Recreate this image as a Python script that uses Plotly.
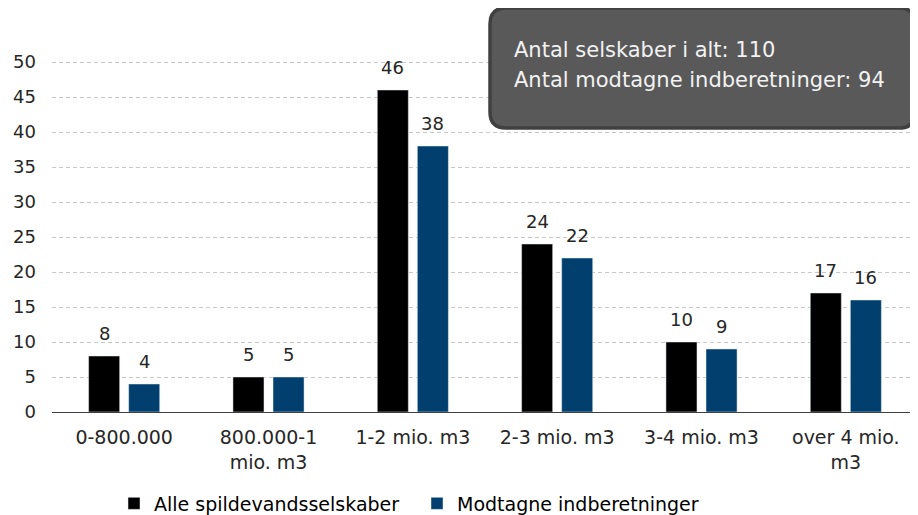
import plotly.graph_objects as go

categories = ["0-800.000", "800.000-1<br>mio. m3", "1-2 mio. m3", "2-3 mio. m3", "3-4 mio. m3", "over 4 mio.<br>m3"]
alle = [8, 5, 46, 24, 10, 17]
modtagne = [4, 5, 38, 22, 9, 16]
series_names = ["Alle spildevandsselskaber", "Modtagne indberetninger"]
box_lines = ["Antal selskaber i alt: 110", "Antal modtagne indberetninger: 94"]
y_ticks = [0, 5, 10, 15, 20, 25, 30, 35, 40, 45, 50]

FONT = "DejaVu Sans"
OFF = 8  # page body margin
W, H = 910, 507
L, R, T, B = 44, 0, 12, 103
pw, ph = W - L - R, H - T - B
BARGAP, GROUPGAP = 0.445, 0.225

def px2paper(x, y):
    # x, y in viewport pixels
    x -= OFF
    y -= OFF
    return (x - L) / pw, (H - B - y) / ph

fig = go.Figure()
fig.add_trace(go.Bar(x=categories, y=alle, name=series_names[0], marker_color="#000000"))
fig.add_trace(go.Bar(x=categories, y=modtagne, name=series_names[1], marker_color="#003F6E"))

# value labels above bars
slot = pw / len(categories) * (1 - BARGAP) / 2
for k, vals in enumerate([alle, modtagne]):
    shift = (k - 0.5) * slot
    for c, v in zip(categories, vals):
        fig.add_annotation(x=c, y=v, text=str(v), showarrow=False, xshift=shift,
                           yanchor="bottom", yshift=10,
                           font=dict(size=18, color="#262626", family=FONT))

# rounded box
x0, y0 = px2paper(490, 128)
x1, y1 = px2paper(915, 8)
rx, ry = 16 / pw, 16 / ph
path = (f"M {x0+rx},{y0} L {x1-rx},{y0} Q {x1},{y0} {x1},{y0+ry} "
        f"L {x1},{y1-ry} Q {x1},{y1} {x1-rx},{y1} L {x0+rx},{y1} "
        f"Q {x0},{y1} {x0},{y1-ry} L {x0},{y0+ry} Q {x0},{y0} {x0+rx},{y0} Z")
fig.add_shape(type="path", path=path, xref="paper", yref="paper",
              fillcolor="#595959", line=dict(color="#404040", width=3.5), layer="above")
for i, line in enumerate(box_lines):
    ax, ay = px2paper(512, 50 + 30 * i)
    fig.add_annotation(x=ax, y=ay, xref="paper", yref="paper", xanchor="left", yanchor="middle",
                       text=line, showarrow=False, align="left",
                       font=dict(size=21, color="#F2F2F2", family=FONT))

lx, _ = px2paper(114, 0)
fig.update_layout(
    width=W, height=H,
    margin=dict(l=L, r=R, t=T, b=B, autoexpand=False),
    plot_bgcolor="white", paper_bgcolor="white",
    barmode="group", bargap=BARGAP, bargroupgap=GROUPGAP,
    font=dict(family=FONT, size=18, color="#262626"),
    legend=dict(orientation="h", x=lx, xanchor="left", y=-0.185, yanchor="top",
                entrywidth=258, entrywidthmode="pixels",
                font=dict(size=19, family=FONT, color="#000000"),
                itemwidth=30, traceorder="normal"),
    xaxis=dict(showline=True, linecolor="#404040", linewidth=1, ticks="",
               tickfont=dict(size=19, family=FONT, color="#262626"), showgrid=False,
               automargin=False, ticklabelstandoff=8),
    yaxis=dict(range=[0, 56], tickvals=y_ticks, showgrid=True, gridcolor="#C8C8C8",
               griddash="4px,3px", gridwidth=1, zeroline=False, ticks="", automargin=False,
               tickfont=dict(size=18, family=FONT, color="#262626"), ticklabelstandoff=15),
)
fig.write_html("out.html")
